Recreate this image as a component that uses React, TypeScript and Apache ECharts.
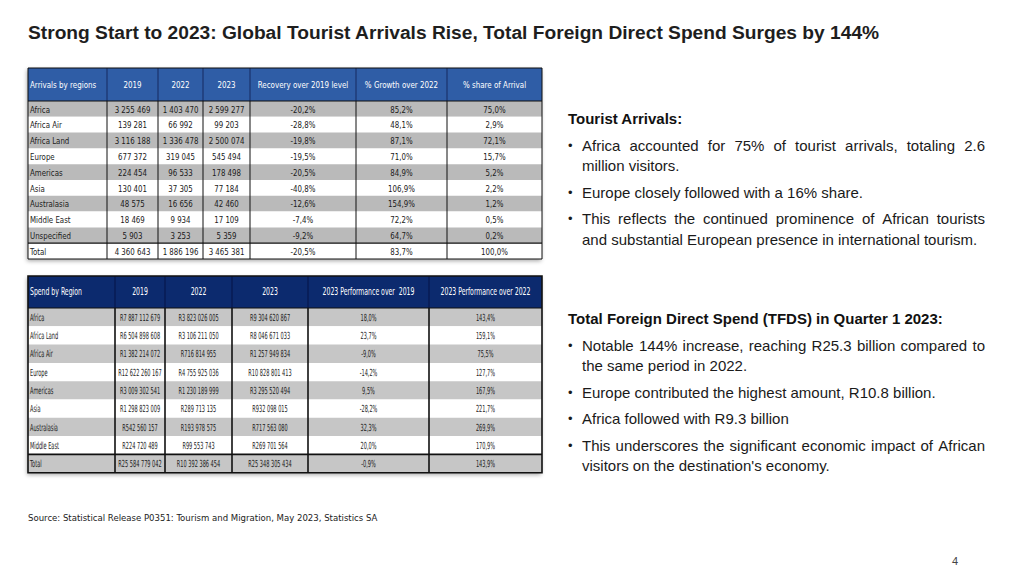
import React, { useEffect, useRef } from "react";
import * as echarts from "echarts";

// ---------- Text content ----------
const titleText =
  "Strong Start to 2023: Global Tourist Arrivals Rise, Total Foreign Direct Spend Surges by 144%";
const sourceText =
  "Source: Statistical Release P0351: Tourism and Migration, May 2023, Statistics SA";
const pageNumber = "4";

const arrivalsHeading = "Tourist Arrivals:";
const arrivalsBullets: string[][] = [
  ["Africa accounted for 75% of tourist arrivals, totaling 2.6", "million visitors."],
  ["Europe closely followed with a 16% share."],
  [
    "This reflects the continued prominence of African tourists",
    "and substantial European presence in international tourism.",
  ],
];
const spendHeading = "Total Foreign Direct Spend (TFDS) in Quarter 1 2023:";
const spendBullets: string[][] = [
  ["Notable 144% increase, reaching R25.3 billion compared to", "the same period in 2022."],
  ["Europe contributed the highest amount, R10.8 billion."],
  ["Africa followed with R9.3 billion"],
  [
    "This underscores the significant economic impact of African",
    "visitors on the destination's economy.",
  ],
];

// ---------- Table 1: arrivals ----------
const arrivalsHeaders = [
  "Arrivals by regions",
  "2019",
  "2022",
  "2023",
  "Recovery over 2019 level",
  "% Growth over 2022",
  "% share of Arrival",
];
const arrivalsRegions = [
  "Africa",
  "Africa Air",
  "Africa Land",
  "Europe",
  "Americas",
  "Asia",
  "Australasia",
  "Middle East",
  "Unspecified",
  "Total",
];
const arrivals2019 = ["3 255 469", "139 281", "3 116 188", "677 372", "224 454", "130 401", "48 575", "18 469", "5 903", "4 360 643"];
const arrivals2022 = ["1 403 470", "66 992", "1 336 478", "319 045", "96 533", "37 305", "16 656", "9 934", "3 253", "1 886 196"];
const arrivals2023 = ["2 599 277", "99 203", "2 500 074", "545 494", "178 498", "77 184", "42 460", "17 109", "5 359", "3 465 381"];
const arrivalsRecovery = ["-20,2%", "-28,8%", "-19,8%", "-19,5%", "-20,5%", "-40,8%", "-12,6%", "-7,4%", "-9,2%", "-20,5%"];
const arrivalsGrowth = ["85,2%", "48,1%", "87,1%", "71,0%", "84,9%", "106,9%", "154,9%", "72,2%", "64,7%", "83,7%"];
const arrivalsShare = ["75,0%", "2,9%", "72,1%", "15,7%", "5,2%", "2,2%", "1,2%", "0,5%", "0,2%", "100,0%"];

// ---------- Table 2: spend ----------
const spendHeaders = [
  "Spend by Region",
  "2019",
  "2022",
  "2023",
  "2023 Performance over  2019",
  "2023 Performance over 2022",
];
const spendRegions = ["Africa", "Africa Land", "Africa Air", "Europe", "Americas", "Asia", "Australasia", "Middle East", "Total"];
const spend2019 = ["R7 887 112 679", "R6 504 898 608", "R1 382 214 072", "R12 622 260 167", "R3 009 302 541", "R1 298 823 009", "R542 560 157", "R224 720 489", "R25 584 779 042"];
const spend2022 = ["R3 823 026 005", "R3 106 211 050", "R716 814 955", "R4 755 925 036", "R1 230 189 999", "R289 713 135", "R193 978 575", "R99 553 743", "R10 392 386 454"];
const spend2023 = ["R9 304 620 867", "R8 046 671 033", "R1 257 949 834", "R10 828 801 413", "R3 295 520 494", "R932 098 015", "R717 563 080", "R269 701 564", "R25 348 305 434"];
const spendPerf2019 = ["18,0%", "23,7%", "-9,0%", "-14,2%", "9,5%", "-28,2%", "32,3%", "20,0%", "-0,9%"];
const spendPerf2022 = ["143,4%", "159,1%", "75,5%", "127,7%", "167,9%", "221,7%", "269,9%", "170,9%", "143,9%"];

// ---------- Helpers ----------
const TABLE_FONT = "'DejaVu Sans Condensed', 'DejaVu Sans', sans-serif";
const BODY_FONT = "'Liberation Sans', Arial, Helvetica, sans-serif";

let measureCtx: CanvasRenderingContext2D | null = null;
function measure(text: string, font: string): number {
  if (!measureCtx) {
    const c = document.createElement("canvas");
    measureCtx = c.getContext("2d");
  }
  if (!measureCtx) return text.length * 7;
  measureCtx.font = font;
  return measureCtx.measureText(text).width;
}

function buildTable(
  cols: string[][],
  headers: string[],
  colEdges: number[],
  top: number,
  headerH: number,
  rowH: number,
  headerColor: string,
  stripe: string,
  totalGray: boolean,
  thick: number,
  fontSize: number,
  headScale: number,
  bodyScale: number
): any[] {
  const els: any[] = [];
  const nRows = cols[0].length;
  const left = colEdges[0];
  const right = colEdges[colEdges.length - 1];
  const bottom = top + headerH + nRows * rowH;
  // shadow / background
  els.push({
    type: "rect",
    shape: { x: left, y: top, width: right - left, height: bottom - top },
    style: { fill: "#ffffff", shadowBlur: 4, shadowColor: "rgba(0,0,0,0.35)", shadowOffsetX: -1, shadowOffsetY: 2 },
  });
  // header
  els.push({
    type: "rect",
    shape: { x: left, y: top, width: right - left, height: headerH },
    style: { fill: headerColor },
  });
  headers.forEach((h, c) => {
    const x0 = colEdges[c];
    const x1 = colEdges[c + 1];
    els.push({
      type: "text",
      x: c === 0 ? x0 + 2 : (x0 + x1) / 2,
      y: top + headerH / 2,
      scaleX: headScale,
      style: {
        text: h,
        fill: "#ffffff",
        fontSize,
        fontFamily: TABLE_FONT,
        align: c === 0 ? "left" : "center",
        verticalAlign: "middle",
      },
    });
  });
  // body rows
  for (let r = 0; r < nRows; r++) {
    const y = top + headerH + r * rowH;
    const isTotal = r === nRows - 1;
    let fill = r % 2 === 0 ? stripe : "#ffffff";
    if (isTotal) fill = totalGray ? stripe : "#ffffff";
    els.push({
      type: "rect",
      shape: { x: left, y, width: right - left, height: rowH },
      style: { fill },
    });
    cols.forEach((col, c) => {
      const x0 = colEdges[c];
      const x1 = colEdges[c + 1];
      els.push({
        type: "text",
        x: c === 0 ? x0 + 2 : (x0 + x1) / 2,
        y: y + rowH / 2 + 0.5,
        scaleX: bodyScale,
        style: {
          text: col[r],
          fill: "#1a1a1a",
          fontSize,
          fontFamily: TABLE_FONT,
          align: c === 0 ? "left" : "center",
          verticalAlign: "middle",
        },
      });
    });
  }
  // vertical separators
  for (let c = 1; c < colEdges.length - 1; c++) {
    els.push({
      type: "line",
      shape: { x1: colEdges[c], y1: top, x2: colEdges[c], y2: top + headerH },
      style: { stroke: "rgba(0,0,40,0.55)", lineWidth: 1 },
    });
    els.push({
      type: "line",
      shape: { x1: colEdges[c], y1: top + headerH, x2: colEdges[c], y2: bottom },
      style: { stroke: "#111111", lineWidth: thick },
    });
  }
  // header bottom and total row top lines
  els.push({
    type: "line",
    shape: { x1: left, y1: top + headerH, x2: right, y2: top + headerH },
    style: { stroke: "#111111", lineWidth: 1.2 },
  });
  const totalTop = top + headerH + (nRows - 1) * rowH;
  els.push({
    type: "line",
    shape: { x1: left, y1: totalTop, x2: right, y2: totalTop },
    style: { stroke: "#111111", lineWidth: thick + 0.3 },
  });
  // outer border
  els.push({
    type: "rect",
    shape: { x: left, y: top, width: right - left, height: bottom - top },
    style: { fill: "none", stroke: "#111111", lineWidth: thick },
  });
  return els;
}

const BODY_SIZE = 15;

function justifiedLine(text: string, x0: number, x1: number, y: number, justify: boolean): any[] {
  const font = `${BODY_SIZE}px 'Liberation Sans', Arial, sans-serif`;
  const base = { fill: "#1a1a1a", fontSize: BODY_SIZE, fontFamily: BODY_FONT, align: "left", verticalAlign: "middle" };
  if (!justify) {
    return [{ type: "text", x: x0, y, style: { ...base, text } }];
  }
  const words = text.split(" ");
  const widths = words.map((w) => measure(w, font));
  const total = widths.reduce((s, w) => s + w, 0);
  const gap = words.length > 1 ? (x1 - x0 - total) / (words.length - 1) : 0;
  const out: any[] = [];
  let x = x0;
  words.forEach((w, i) => {
    out.push({ type: "text", x, y, style: { ...base, text: w } });
    x += widths[i] + gap;
  });
  return out;
}

function buildBlock(heading: string, bullets: string[][], headY: number, firstY: number, lineGap: number, bulletGap: number): any[] {
  const els: any[] = [];
  els.push({
    type: "text",
    x: 568,
    y: headY,
    style: {
      text: heading,
      fill: "#111111",
      fontSize: BODY_SIZE,
      fontWeight: "bold",
      fontFamily: BODY_FONT,
      align: "left",
      verticalAlign: "middle",
    },
  });
  let y = firstY;
  bullets.forEach((lines) => {
    els.push({
      type: "text",
      x: 568,
      y,
      style: { text: "•", fill: "#1a1a1a", fontSize: 13, fontFamily: BODY_FONT, align: "left", verticalAlign: "middle" },
    });
    lines.forEach((ln, i) => {
      const justify = i < lines.length - 1;
      els.push(...justifiedLine(ln, 582, 985, y, justify));
      if (i < lines.length - 1) y += lineGap;
    });
    y += bulletGap;
  });
  return els;
}

export default function App() {
  const ref = useRef<HTMLDivElement>(null);
  useEffect(() => {
    if (!ref.current) return;
    const chart = echarts.init(ref.current, null, { renderer: "svg" });

    const table1 = buildTable(
      [arrivalsRegions, arrivals2019, arrivals2022, arrivals2023, arrivalsRecovery, arrivalsGrowth, arrivalsShare],
      arrivalsHeaders,
      [28, 107, 158, 203, 250, 356, 447, 542],
      68,
      33,
      15.8,
      "#2F5DA6",
      "#BABABA",
      false,
      1,
      9.2,
      0.86,
      0.85
    );
    const table2 = buildTable(
      [spendRegions, spend2019, spend2022, spend2023, spendPerf2019, spendPerf2022],
      spendHeaders,
      [28, 115, 165, 232, 308, 429, 542],
      276,
      32,
      18.3,
      "#0C2A6E",
      "#C6C6C6",
      true,
      1.6,
      9.8,
      0.7,
      0.57
    );

    const titleSize = 18;
    const titleW = measure(titleText, `bold ${titleSize}px 'Liberation Sans', Arial, sans-serif`);
    const titleScale = titleW > 0 ? 852 / titleW : 1;

    const graphics: any[] = [
      {
        type: "text",
        x: 28,
        y: 33,
        scaleX: titleScale,
        style: {
          text: titleText,
          fill: "#1e1e1e",
          fontSize: titleSize,
          fontWeight: "bold",
          fontFamily: BODY_FONT,
          align: "left",
          verticalAlign: "middle",
        },
      },
      ...table1,
      ...table2,
      ...buildBlock(arrivalsHeading, arrivalsBullets, 118, 145, 20.5, 26.5),
      ...buildBlock(spendHeading, spendBullets, 318, 345, 20.5, 26.5),
      {
        type: "text",
        x: 28,
        y: 517,
        style: {
          text: sourceText,
          fill: "#222222",
          fontSize: 9.5,
          fontFamily: TABLE_FONT,
          align: "left",
          verticalAlign: "middle",
        },
      },
      {
        type: "text",
        x: 955,
        y: 561,
        style: {
          text: pageNumber,
          fill: "#444444",
          fontSize: 11,
          fontFamily: BODY_FONT,
          align: "center",
          verticalAlign: "middle",
        },
      },
    ];

    chart.setOption({
      animation: false,
      backgroundColor: "#ffffff",
      graphic: { elements: graphics },
    });
    return () => chart.dispose();
  }, []);

  return (
    <div
      ref={ref}
      style={{ position: "fixed", left: 0, top: 0, width: 1024, height: 576, background: "#ffffff" }}
    />
  );
}
